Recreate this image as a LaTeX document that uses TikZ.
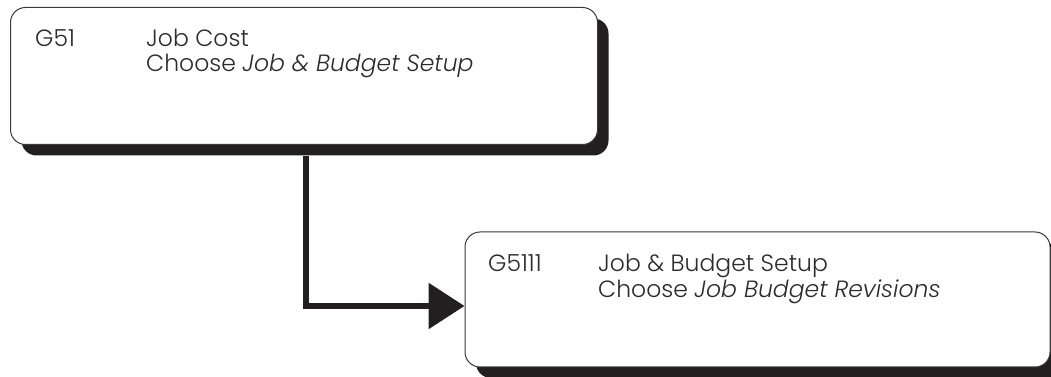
\documentclass[tikz,border=0pt]{standalone}
\usepackage{fontspec}
\setmainfont{Poppins}[UprightFont=* Light, ItalicFont=* Light Italic]
\usetikzlibrary{arrows.meta,shadows}
\definecolor{ink}{HTML}{231F20}
\definecolor{edge}{HTML}{3A3A3A}
\definecolor{txt}{HTML}{2B2B2B}
\tikzset{
  menubox/.style={draw=edge, line width=1pt, fill=white, rounded corners=15pt,
    inner sep=0pt,
    drop shadow={shadow xshift=11pt, shadow yshift=-11pt, opacity=1, fill=ink}},
  label/.style={anchor=base west, inner sep=0pt, text=txt, font=\fontsize{23.5}{28}\selectfont},
  conn/.style={draw=ink, line width=6pt, -{Triangle[length=36pt,width=45pt]}}
}
\begin{document}
\begin{tikzpicture}[x=1pt,y=1pt]
\useasboundingbox (0,0) rectangle (1051,377);

% Menu G51
\node[menubox, minimum width=587pt, minimum height=137pt] (b1) at (304,301) {};
\node[label] (c1) at (35,330) {G51};
\node[label] (t1a) at (146,330) {Job Cost};
\node[label] (t1b) at (146,305) {Choose \textit{Job \& Budget Setup}};

% Menu G5111
\node[menubox, minimum width=585pt, minimum height=135pt] (b2) at (757.5,77.5) {};
\node[label] (c2) at (488,105) {G5111};
\node[label] (t2a) at (598,105) {Job \& Budget Setup};
\node[label] (t2b) at (598,79) {Choose \textit{Job Budget Revisions}};

% Connector from the first menu down and across to the second
\coordinate (stem) at ([xshift=2pt,yshift=-11pt]b1.south);
\coordinate (tip) at (b2.west |- 0,71);
\draw[conn] (stem) |- (tip);
\end{tikzpicture}
\end{document}
